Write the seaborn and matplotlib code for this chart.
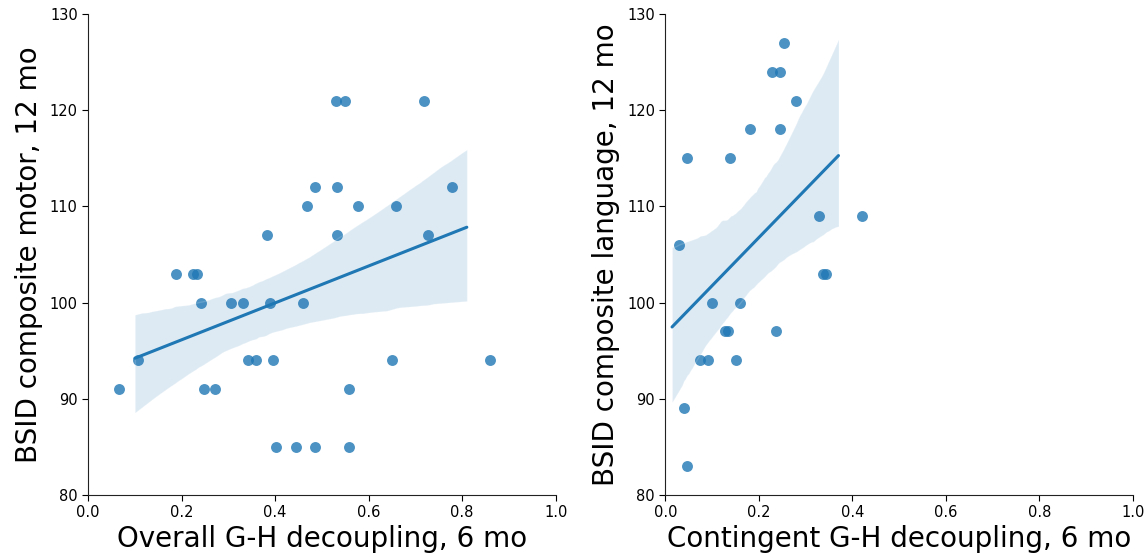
import numpy as np
import pandas as pd
import matplotlib
matplotlib.use("Agg")
import matplotlib.pyplot as plt
import seaborn as sns

# Overall G-H decoupling at 6 months vs. BSID motor composite at 12 months
overall_x = [0.065, 0.107, 0.188, 0.225, 0.232, 0.242, 0.247, 0.272, 0.305, 0.331,
             0.342, 0.360, 0.382, 0.388, 0.395, 0.402, 0.445, 0.459, 0.468, 0.486,
             0.486, 0.530, 0.532, 0.532, 0.550, 0.558, 0.558, 0.578, 0.649, 0.658,
             0.719, 0.726, 0.779, 0.859]
motor_y = [91, 94, 103, 103, 103, 100, 91, 91, 100, 100,
           94, 94, 107, 100, 94, 85, 85, 100, 110, 112,
           85, 121, 112, 107, 121, 91, 85, 110, 94, 110,
           121, 107, 112, 94]

# Contingent G-H decoupling at 6 months vs. BSID language composite at 12 months
contingent_x = [0.029, 0.039, 0.045, 0.046, 0.074, 0.090, 0.099, 0.128, 0.133, 0.139,
                0.150, 0.159, 0.180, 0.227, 0.236, 0.244, 0.244, 0.253, 0.280, 0.328,
                0.336, 0.343, 0.421]
language_y = [106, 89, 115, 83, 94, 94, 100, 97, 97, 115,
              94, 100, 118, 124, 97, 124, 118, 127, 121, 109,
              103, 103, 109]

x_labels = ["Overall G-H decoupling, 6 mo", "Contingent G-H decoupling, 6 mo"]
y_labels = ["BSID composite motor, 12 mo", "BSID composite language, 12 mo"]

# x-span over which each regression line is drawn
fit_spans = [(0.10, 0.81), (0.014, 0.37)]

sns.set_style("ticks")
plt.rcParams["font.family"] = ["DejaVu Sans"]
plt.rcParams["text.color"] = "black"
plt.rcParams["axes.labelcolor"] = "black"

fig, axes = plt.subplots(1, 2, figsize=(11.45, 5.6), dpi=100)
fig.subplots_adjust(left=0.077, right=0.9895, top=0.975, bottom=0.116, wspace=0.235)

panels = [
    pd.DataFrame({"x": overall_x, "y": motor_y}),
    pd.DataFrame({"x": contingent_x, "y": language_y}),
]

for ax, df, xl, yl, span in zip(axes, panels, x_labels, y_labels, fit_spans):
    ax.set_xlim(*span)
    sns.regplot(data=df, x="x", y="y", ax=ax, truncate=False, seed=3,
                color="C0", scatter_kws={"s": 62, "alpha": 0.8, "linewidths": 0},
                line_kws={"lw": 2.2})
    ax.set_xlim(0, 1)
    ax.set_ylim(80, 130)
    ax.set_xticks(np.arange(0, 1.01, 0.2))
    ax.set_yticks(np.arange(80, 131, 10))
    ax.tick_params(labelsize=10.5, colors="black", length=4)
    ax.set_xlabel(xl, fontsize=20, labelpad=3)
    ax.set_ylabel(yl, fontsize=20, labelpad=5)
    for side in ("left", "bottom"):
        ax.spines[side].set_color("#222222")
    sns.despine(ax=ax)

fig.savefig("out.png", dpi=100)
